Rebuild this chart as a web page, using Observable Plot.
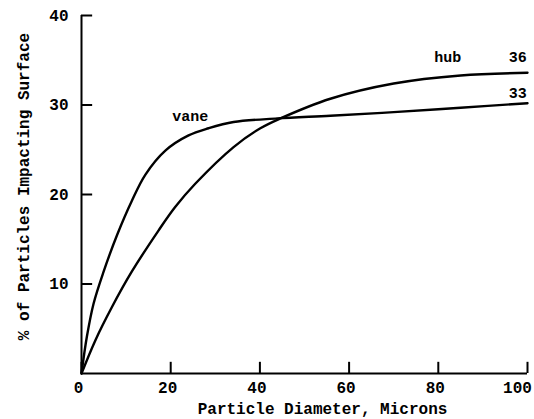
<!DOCTYPE html>
<html>
<head>
<meta charset="utf-8">
<script src="https://cdn.jsdelivr.net/npm/d3@7"></script>
<script src="https://cdn.jsdelivr.net/npm/@observablehq/plot@0.6"></script>
<style>
  html, body { margin: 0; padding: 0; background: #fff; }
</style>
</head>
<body>
<div id="chart"></div>
<script>
// Particle diameter (microns) and % of particles impacting surface
const vaneX = [0, 1.2, 2.7, 4.9, 8.0, 11.3, 14.3, 18.8, 24.0, 28.5, 34.1, 43.9, 55.8, 70, 85, 100];
const vaneY = [0, 4.1, 7.8, 11.3, 15.5, 19.3, 22.2, 24.9, 26.6, 27.4, 28.1, 28.5, 28.8, 29.2, 29.7, 30.2];
const hubX = [0, 3.1, 6.8, 11.3, 17.3, 21.0, 25.5, 34.1, 40.1, 44.6, 55.8, 70, 85, 100];
const hubY = [0, 3.7, 7.4, 11.4, 16.0, 18.6, 21.2, 25.3, 27.4, 28.5, 30.7, 32.4, 33.3, 33.6];

const xTicks = [0, 20, 40, 60, 80, 100];
const yTicks = [10, 20, 30, 40];

const curveLabels = ["vane", "hub", "36", "33"];
const curveLabelX = [24.4, 82.1, 97.8, 97.8];
const curveLabelY = [28.8, 35.3, 35.3, 31.3];

const xLabel = "Particle Diameter, Microns";
const yLabel = "% of Particles Impacting Surface";

const vane = vaneX.map((x, i) => ({x, y: vaneY[i]}));
const hub = hubX.map((x, i) => ({x, y: hubY[i]}));
const labels = curveLabels.map((t, i) => ({t, x: curveLabelX[i], y: curveLabelY[i]}));

const font = "'Liberation Mono', 'Courier New', monospace";
const lastX = xTicks[xTicks.length - 1];

const chart = Plot.plot({
  width: 534,
  height: 419,
  marginLeft: 81,
  marginRight: 7,
  marginTop: 15,
  marginBottom: 46,
  style: {fontFamily: font, fontSize: "16px", fontWeight: "bold", background: "#fff", color: "#000"},
  x: {domain: [0, 100]},
  y: {domain: [0, 40]},
  marks: [
    // tick labels
    Plot.axisX({ticks: xTicks.filter(d => d !== lastX), tickSize: 0, tickPadding: 8, dx: -3, label: null, fontSize: 16}),
    Plot.axisX({ticks: [lastX], tickSize: 0, tickPadding: 8, dx: -10, label: null, fontSize: 16}),
    Plot.axisY({ticks: yTicks, tickSize: 0, tickPadding: 13, label: null, fontSize: 16}),
    // inward ticks
    Plot.ruleX(xTicks, {x: d => d, y1: 0, y2: 1.25, stroke: "#000", strokeWidth: 2}),
    Plot.ruleY(yTicks, {y: d => d, x1: 0, x2: 2.5, stroke: "#000", strokeWidth: 2}),
    // axis lines
    Plot.ruleX([0], {stroke: "#000", strokeWidth: 2}),
    Plot.ruleY([0], {stroke: "#000", strokeWidth: 2}),
    // curves
    Plot.line(vane, {x: "x", y: "y", curve: "catmull-rom", stroke: "#000", strokeWidth: 2.4}),
    Plot.line(hub, {x: "x", y: "y", curve: "catmull-rom", stroke: "#000", strokeWidth: 2.4}),
    Plot.text(labels, {x: "x", y: "y", text: "t", fontSize: 15, fill: "#000"}),
    // axis titles
    Plot.text([xLabel], {frameAnchor: "bottom", textAnchor: "middle", dx: 18, dy: 35, fontSize: 16, fill: "#000", lineAnchor: "middle", style: "letter-spacing:1.2px"}),
    Plot.text([yLabel], {frameAnchor: "left", textAnchor: "middle", rotate: -90, dx: -58, dy: -8, fontSize: 16, fill: "#000", lineAnchor: "middle", style: "letter-spacing:1.1px"})
  ]
});
document.getElementById("chart").appendChild(chart);
</script>
</body>
</html>
